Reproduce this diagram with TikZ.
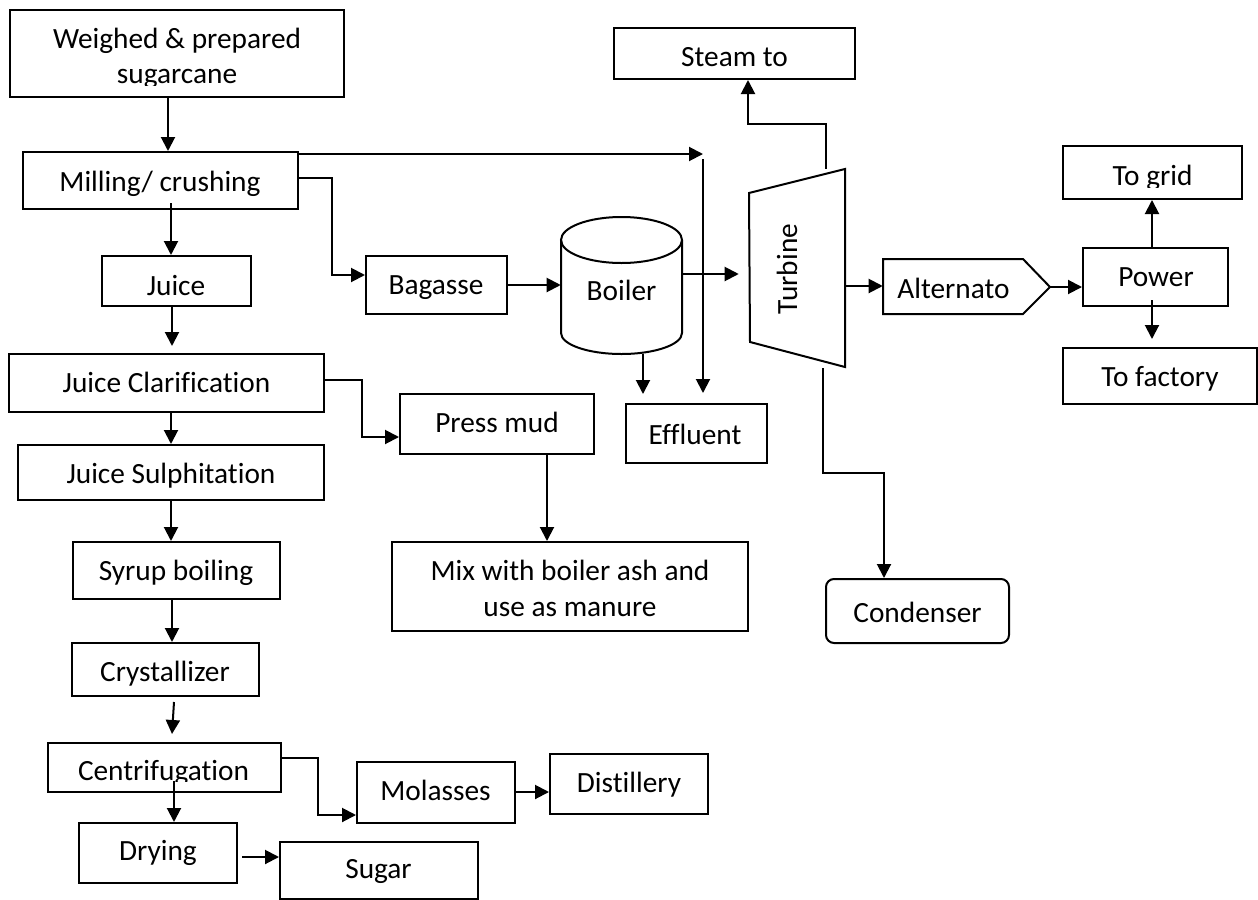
\documentclass[tikz,border=0pt]{standalone}
\usepackage{fontspec}
\setmainfont{Carlito}[Ligatures={NoCommon}]
\usetikzlibrary{arrows.meta,calc,fit}
\newdimen\px \px=0.75pt
\tikzset{
  box/.style={draw, line width=1.5pt, rectangle, inner sep=0pt},
  ghost/.style={rectangle, inner sep=0pt},
  arr/.style={line width=1.5pt, -{Triangle[length=10.5pt,width=10.5pt]}},
  ln/.style={line width=1.5pt},
  lbl/.style={inner sep=0pt, anchor=base, font=\fontsize{22}{27}\selectfont},
}
\begin{document}
\begin{tikzpicture}[x=0.75pt,y=-0.75pt]
\useasboundingbox (0,0) rectangle (1258,900);
% ---------- boxes ----------
\node[box, fit={(10,10)(344,97)}] (weighed) {};
\node[box, fit={(23,152)(298,209)}] (milling) {};
\node[box, fit={(102,256)(251,306)}] (juice) {};
\node[box, fit={(366,256)(507,314)}] (bagasse) {};
\node[box, fit={(614,28)(855,79)}] (steam) {};
\node[box, fit={(1083,248)(1228,306)}] (power) {};
\node[box, fit={(1063,146)(1242,199)}] (togrid) {};
\node[box, fit={(1063,348)(1257,404)}] (tofactory) {};
\node[box, rounded corners=6pt, fit={(826,579)(1009,643)}] (condenser) {};
\node[box, fit={(626,404)(767,463)}] (effluent) {};
\node[box, fit={(400,394)(594,454)}] (pressmud) {};
\node[box, fit={(392,542)(748,631)}] (mix) {};
\node[box, fit={(9,354)(324,412)}] (jclar) {};
\node[box, fit={(18,445)(324,500)}] (jsulph) {};
\node[box, fit={(73,542)(280,599)}] (syrup) {};
\node[box, fit={(72,643)(259,696)}] (cryst) {};
\node[box, fit={(48,743)(281,792)}] (centri) {};
\node[box, fit={(79,823)(237,883)}] (drying) {};
\node[box, fit={(280,842)(478,899)}] (sugar) {};
\node[box, fit={(357,762)(515,823)}] (molasses) {};
\node[box, fit={(550,754)(708,814)}] (distillery) {};
% boiler (cylinder)
\node[ghost, fit={(561,217)(682,354)}] (boiler) {};
\draw[ln] (561,240) -- (561,333) arc[start angle=180, end angle=360, x radius=45.375pt, y radius=15.75pt] -- (682,240);
\draw[ln] (621.5,240) ellipse [x radius=45.375pt, y radius=17.25pt];
% turbine
\node[ghost, fit={(749,169)(845,367)}] (turbine) {};
\draw[ln, line join=miter] (749,193) -- (845,169) -- (845,367) -- (750,342) -- cycle;
% alternator
\node[ghost, fit={(883,259)(1050,314)}] (alt) {};
\draw[ln, line join=miter] (883,259) -- (1023,259) -- (1050,287) -- (1023,314) -- (883,314) -- cycle;
% ---------- texts ----------
\node[lbl] (weighed-t1) at (177,48) {Weighed \& prepared};
\begin{scope}
\clip (10,10) rectangle (344,85);
\node[lbl] (weighed-t2) at (177,83) {sugarcane};
\end{scope}
\node[lbl] (milling-t) at (160,191.5) {Milling/ crushing};
\node[lbl] (juice-t) at (176,295) {Juice};
\node[lbl] (bagasse-t) at (436,294) {Bagasse};
\node[lbl] (boiler-t) at (621.5,300) {Boiler};
\node[lbl, rotate=90] (turbine-t) at (797,269) {Turbine};
\node[lbl] (steam-t) at (734.5,66.5) {Steam to};
\begin{scope}
\clip (1063,146) rectangle (1242,187);
\node[lbl] (togrid-t) at (1152.5,185) {To grid};
\end{scope}
\node[lbl] (power-t) at (1156,286.5) {Power};
\node[lbl] (tofactory-t) at (1160,386.5) {To factory};
\node[lbl] (alt-t) at (953.5,298) {Alternato};
\node[lbl] (condenser-t) at (917.5,622.5) {Condenser};
\node[lbl] (effluent-t) at (695,444) {Effluent};
\node[lbl] (pressmud-t) at (497,432.5) {Press mud};
\node[lbl] (mix-t1) at (570,580) {Mix with boiler ash and};
\node[lbl] (mix-t2) at (570,616.5) {use as manure};
\node[lbl] (jclar-t) at (166.5,392.5) {Juice Clarification};
\node[lbl] (jsulph-t) at (171,483) {Juice Sulphitation};
\node[lbl] (syrup-t) at (176,580) {Syrup boiling};
\node[lbl] (cryst-t) at (165,681.5) {Crystallizer};
\begin{scope}
\clip (48,743) rectangle (281,781);
\node[lbl] (centri-t) at (163.5,780) {Centrifugation};
\end{scope}
\node[lbl] (drying-t) at (158,860) {Drying};
\node[lbl] (sugar-t) at (378.5,878) {Sugar};
\node[lbl] (molasses-t) at (435.5,800) {Molasses};
\node[lbl] (distillery-t) at (629,792.5) {Distillery};
% ---------- connectors ----------
\coordinate (jn) at (703,154);
\coordinate (vt) at (703,159);
\draw[arr] (168,0 |- weighed.south) -- (168,0 |- milling.north);
\draw[arr] ($(171,0 |- milling.south)+(0,-7)$) -- (171,0 |- juice.north);
\draw[arr] (milling.east |- jn) -- (jn);
\draw[arr] (vt) -- ($(vt |- effluent.north)+(0,-10)$);
\draw[arr] (milling.east |- 0,178) -| (332,275) -- (bagasse.west |- 0,275);
\draw[arr] (bagasse.east |- 0,285) -- (boiler.west |- 0,285);
\draw[arr] (boiler.east |- 0,274) -- ($(turbine.west |- 0,274)+(-10,0)$);
\draw[arr] (643,0 |- boiler.south) -- ($(643,0 |- effluent.north)+(0,-9)$);
\draw[arr] (826,0 |- turbine.north) |- (748,124) -- (748,0 |- steam.south);
\draw[arr] (turbine.east |- 0,286) -- (alt.west |- 0,286);
\draw[arr] (alt.east |- 0,287) -- (power.west |- 0,287);
\draw[arr] (1152,0 |- power.north) -- (1152,0 |- togrid.south);
\draw[arr] ($(1152,0 |- power.south)+(0,-7)$) -- ($(1152,0 |- tofactory.north)+(0,-8)$);
\draw[arr] ($(823,0 |- turbine.south)+(0,1)$) |- (884,473) -- (884,0 |- condenser.north);
\draw[arr] (172,0 |- juice.south) -- ($(172,0 |- jclar.north)+(0,-7)$);
\draw[arr] (jclar.east |- 0,380) -| (362,437) -- (pressmud.west |- 0,437);
\draw[arr] (547,0 |- pressmud.south) -- (547,0 |- mix.north);
\draw[arr] (171,0 |- jclar.south) -- (171,0 |- jsulph.north);
\draw[arr] (171,0 |- jsulph.south) -- (171,0 |- syrup.north);
\draw[arr] (172,0 |- syrup.south) -- (172,0 |- cryst.north);
\draw[arr] ($(174,0 |- cryst.south)+(0,5)$) -- ($(172,0 |- centri.north)+(0,-8)$);
\draw[arr] ($(174,0 |- centri.south)+(0,-12)$) -- (174,0 |- drying.north);
\draw[arr] ($(drying.east |- 0,857)+(4,0)$) -- (sugar.west |- 0,857);
\draw[arr] (centri.east |- 0,758) -| (318,815) -- (molasses.west |- 0,815);
\draw[arr] (molasses.east |- 0,792) -- (distillery.west |- 0,792);
\end{tikzpicture}
\end{document}
